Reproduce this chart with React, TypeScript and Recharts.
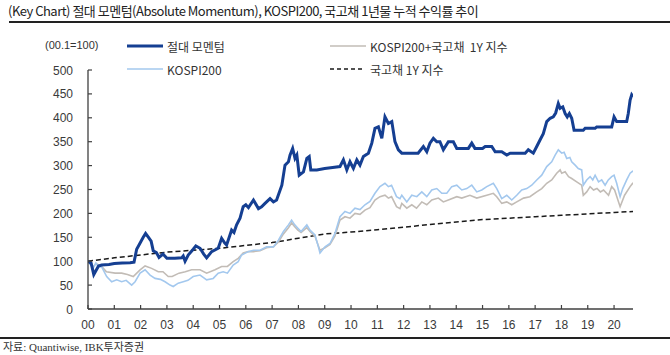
import React from "react";
import { LineChart, Line, XAxis, YAxis } from "recharts";

// year offset from 2000 -> index level (2000.1 = 100)
const MOMENTUM: [number, number][] = [
  [0, 100], [0.12, 96], [0.22, 72], [0.3, 80], [0.4, 90], [0.52, 92], [0.8, 93], [1.0, 95], [1.3, 96],
  [1.6, 97], [1.75, 98], [1.85, 125], [1.95, 135], [2.1, 150], [2.19, 158], [2.3, 150], [2.4, 142],
  [2.48, 122], [2.6, 118], [2.7, 108], [2.85, 115], [3.0, 106], [3.3, 106], [3.56, 107], [3.62, 111],
  [3.69, 100], [3.81, 113], [4.0, 125], [4.1, 132], [4.26, 127], [4.4, 115], [4.51, 107], [4.7, 120],
  [4.95, 127], [5.08, 148], [5.2, 138], [5.27, 134], [5.46, 165], [5.55, 160], [5.65, 176], [5.78, 190],
  [5.9, 214], [6.0, 218], [6.1, 212], [6.29, 228], [6.48, 210], [6.6, 214], [6.73, 221], [6.92, 231],
  [7.05, 224], [7.17, 228], [7.37, 259], [7.49, 301], [7.62, 308], [7.68, 322], [7.78, 336], [7.87, 315],
  [7.94, 322], [8.03, 280], [8.19, 287], [8.32, 315], [8.41, 319], [8.47, 291], [8.7, 291], [9.0, 294],
  [9.3, 296], [9.58, 298], [9.71, 312], [9.84, 291], [9.96, 308], [10.09, 294], [10.22, 312], [10.34, 301],
  [10.47, 319], [10.66, 326], [10.79, 347], [10.91, 378], [11.04, 381], [11.17, 357], [11.29, 402],
  [11.42, 388], [11.55, 392], [11.67, 350], [11.8, 333], [11.93, 326], [12.2, 326], [12.55, 326],
  [12.75, 340], [12.88, 329], [13.0, 347], [13.13, 357], [13.26, 350], [13.38, 350], [13.51, 333],
  [13.7, 350], [13.89, 350], [14.02, 336], [14.46, 336], [14.59, 347], [14.71, 336], [15.0, 336],
  [15.1, 340], [15.35, 340], [15.48, 329], [15.73, 329], [15.92, 322], [16.05, 326], [16.62, 326],
  [16.74, 333], [16.93, 326], [17.06, 340], [17.19, 354], [17.31, 367], [17.44, 392], [17.57, 399],
  [17.69, 402], [17.78, 410], [17.88, 430], [17.95, 420], [18.05, 423], [18.14, 409], [18.22, 402],
  [18.3, 409], [18.39, 399], [18.48, 374], [18.83, 374], [18.9, 378], [19.28, 378], [19.34, 381],
  [19.91, 381], [20.0, 402], [20.1, 392], [20.48, 392], [20.54, 409], [20.61, 437], [20.67, 448], [20.72, 444],
];

const KOSPI200: [number, number][] = [
  [0, 100], [0.1, 92], [0.2, 86], [0.3, 96], [0.39, 89], [0.52, 88], [0.71, 68], [0.9, 57], [1.09, 61],
  [1.28, 57], [1.45, 60], [1.66, 50], [1.79, 57], [1.98, 75], [2.17, 82], [2.36, 71], [2.55, 64],
  [2.75, 62], [2.93, 57], [3.12, 50], [3.24, 47], [3.43, 54], [3.62, 57], [3.8, 60], [4.0, 68], [4.26, 71],
  [4.51, 61], [4.76, 64], [4.95, 75], [5.14, 78], [5.3, 75], [5.52, 92], [5.71, 99], [5.84, 113],
  [6.09, 120], [6.29, 123], [6.54, 123], [6.79, 130], [7.05, 130], [7.24, 144], [7.43, 162], [7.62, 176],
  [7.74, 186], [7.86, 176], [7.98, 169], [8.1, 162], [8.32, 176], [8.44, 165], [8.63, 155], [8.76, 130],
  [8.82, 117], [9.01, 130], [9.2, 137], [9.39, 158], [9.58, 193], [9.77, 204], [9.96, 200], [10.15, 211],
  [10.34, 208], [10.53, 218], [10.72, 225], [10.91, 242], [11.1, 256], [11.29, 263], [11.42, 256],
  [11.54, 259], [11.73, 235], [11.86, 231], [11.93, 238], [12.12, 224], [12.31, 238], [12.5, 235],
  [12.69, 245], [12.88, 235], [13.07, 249], [13.26, 252], [13.45, 242], [13.64, 242], [13.83, 256],
  [14.02, 259], [14.21, 249], [14.4, 252], [14.59, 259], [14.78, 245], [14.97, 249], [15.16, 256],
  [15.41, 263], [15.54, 252], [15.73, 231], [15.92, 238], [16.11, 228], [16.3, 238], [16.49, 249],
  [16.68, 252], [16.87, 259], [17.06, 270], [17.25, 280], [17.44, 298], [17.63, 308], [17.76, 322],
  [17.88, 333], [18.01, 326], [18.1, 328], [18.2, 315], [18.32, 317], [18.39, 308], [18.52, 301],
  [18.64, 294], [18.77, 291], [18.83, 259], [18.96, 270], [19.09, 277], [19.19, 270], [19.28, 280],
  [19.41, 266], [19.53, 270], [19.66, 259], [19.78, 270], [19.91, 277], [20.0, 280], [20.1, 263],
  [20.23, 235], [20.33, 252], [20.48, 270], [20.61, 284], [20.72, 289],
];

const KOSPI_BOND: [number, number][] = [
  [0, 100], [0.1, 93], [0.2, 88], [0.3, 95], [0.52, 89], [0.7, 78], [1.03, 75], [1.28, 75], [1.5, 72],
  [1.72, 68], [1.98, 82], [2.17, 90], [2.42, 85], [2.67, 78], [2.85, 78], [3.05, 68], [3.2, 68], [3.46, 75],
  [3.7, 78], [3.94, 82], [4.26, 82], [4.51, 75], [4.83, 82], [5.08, 89], [5.3, 89], [5.52, 99], [5.71, 106],
  [5.9, 117], [6.09, 120], [6.29, 120], [6.54, 122], [6.79, 128], [7.05, 130], [7.24, 140], [7.43, 157],
  [7.62, 170], [7.74, 180], [7.86, 172], [7.98, 165], [8.1, 160], [8.32, 170], [8.44, 162], [8.63, 152],
  [8.76, 132], [8.82, 123], [9.01, 128], [9.2, 135], [9.39, 153], [9.58, 186], [9.77, 193], [9.96, 190],
  [10.15, 200], [10.34, 198], [10.53, 207], [10.72, 212], [10.91, 228], [11.1, 235], [11.29, 238],
  [11.42, 232], [11.54, 235], [11.73, 214], [11.86, 210], [11.93, 221], [12.12, 211], [12.31, 218],
  [12.49, 211], [12.69, 224], [12.88, 218], [13.07, 228], [13.32, 232], [13.51, 224], [13.7, 228],
  [14.02, 235], [14.21, 232], [14.52, 238], [14.78, 232], [15.16, 238], [15.41, 242], [15.54, 235],
  [15.73, 221], [15.92, 224], [16.11, 218], [16.3, 224], [16.56, 232], [16.8, 235], [17.06, 245],
  [17.25, 252], [17.44, 263], [17.63, 270], [17.82, 284], [17.95, 291], [18.01, 284], [18.14, 287],
  [18.27, 277], [18.39, 273], [18.58, 266], [18.77, 259], [18.83, 238], [18.96, 245], [19.09, 256],
  [19.22, 249], [19.35, 252], [19.48, 245], [19.6, 249], [19.79, 238], [19.91, 256], [20.02, 249],
  [20.23, 214], [20.4, 238], [20.61, 256], [20.72, 264],
];

const BOND_1Y: [number, number][] = [
  [0, 100], [1, 107], [2, 113], [3, 119], [4, 123], [5, 127], [6, 133], [7, 139], [8, 148], [9, 157],
  [10, 161], [11, 166], [12, 171], [13, 177], [14, 182], [15, 187], [16, 190], [17, 193], [18, 196],
  [19, 199], [20, 202], [20.72, 204],
];

const YEAR_TICKS = [0, 1, 2, 3, 4, 5, 6, 7, 8, 9, 10, 11, 12, 13, 14, 15, 16, 17, 18, 19, 20];
const VALUE_TICKS = [0, 50, 100, 150, 200, 250, 300, 350, 400, 450, 500];

const toRows = (pts: [number, number][]) => pts.map(([t, v]) => ({ t, v }));

const AXIS = "#404040";
const NUM_FONT = "'Liberation Sans', Arial, sans-serif";
const KR_FONT = "'Noto Sans CJK KR', 'Noto Sans', sans-serif";

function XTick({ x, y, payload }: any) {
  return (
    <g>
      <line x1={x} x2={x} y1={y} y2={y - 4} stroke={AXIS} strokeWidth={1.2} />
      <text x={x} y={y + 20} textAnchor="middle" fontSize={12} fill="#3a3a3a" fontFamily={NUM_FONT}>
        {String(payload.value).padStart(2, "0")}
      </text>
    </g>
  );
}

function YTick({ x, y, payload }: any) {
  return (
    <g>
      <line x1={x} x2={x + 4} y1={y} y2={y} stroke={AXIS} strokeWidth={1.2} />
      <text x={x - 15} y={y + 4.5} textAnchor="end" fontSize={12} fill="#3a3a3a" fontFamily={NUM_FONT}>
        {payload.value}
      </text>
    </g>
  );
}

function LegendRow({ top, left, sample, label }: { top: number; left: number; sample: React.ReactNode; label: string }) {
  return (
    <div style={{ position: "absolute", top: top - 8, left, height: 16, display: "flex", alignItems: "center" }}>
      <svg width={38} height={16}>{sample}</svg>
      <span style={{ marginLeft: 4, fontSize: 12, color: "#333", fontFamily: KR_FONT, whiteSpace: "pre" }}>{label}</span>
    </div>
  );
}

export default function App() {
  return (
    <div style={{ position: "absolute", left: 0, top: 0, width: 670, height: 355, background: "#fff", overflow: "hidden" }}>
      <div
        style={{
          position: "absolute",
          left: 8,
          top: 1,
          lineHeight: "19px",
          fontSize: 13,
          color: "#222",
          fontFamily: KR_FONT,
          letterSpacing: -0.5,
          whiteSpace: "nowrap",
        }}
      >
        (Key Chart) 절대 모멘텀(Absolute Momentum), KOSPI200, 국고채 1년물 누적 수익률 추이
      </div>
      <div style={{ position: "absolute", left: 9, top: 21, width: 661, height: 2, background: "#222" }} />

      <LineChart
        width={670}
        height={355}
        margin={{ top: 70, right: 37, left: 0, bottom: 16 }}
        style={{ position: "absolute", left: 0, top: 0 }}
      >
        <XAxis
          dataKey="t"
          type="number"
          domain={[0, 20.72]}
          allowDataOverflow
          ticks={YEAR_TICKS}
          interval={0}
          height={30}
          tickSize={0}
          tickMargin={0}
          tickLine={false}
          axisLine={{ stroke: AXIS, strokeWidth: 1.3 }}
          tick={<XTick />}
        />
        <YAxis
          type="number"
          domain={[0, 500]}
          ticks={VALUE_TICKS}
          interval={0}
          width={88}
          tickSize={0}
          tickMargin={0}
          tickLine={false}
          axisLine={{ stroke: AXIS, strokeWidth: 1.3 }}
          tick={<YTick />}
        />
        <Line
          data={toRows(BOND_1Y)}
          dataKey="v"
          stroke="#1a1a1a"
          strokeWidth={1.5}
          strokeDasharray="5 3"
          dot={false}
          isAnimationActive={false}
        />
        <Line
          data={toRows(KOSPI_BOND)}
          dataKey="v"
          stroke="#c2bcb6"
          strokeWidth={1.6}
          dot={false}
          isAnimationActive={false}
        />
        <Line
          data={toRows(KOSPI200)}
          dataKey="v"
          stroke="#a3c8ee"
          strokeWidth={1.6}
          dot={false}
          isAnimationActive={false}
        />
        <Line
          data={toRows(MOMENTUM)}
          dataKey="v"
          stroke="#153f92"
          strokeWidth={3}
          dot={false}
          isAnimationActive={false}
        />
      </LineChart>

      <div style={{ position: "absolute", left: 45, top: 39, fontSize: 11, color: "#333", fontFamily: NUM_FONT }}>
        (00.1=100)
      </div>
      <LegendRow top={46} left={125} label="절대 모멘텀" sample={<line x1={2} x2={38} y1={8} y2={8} stroke="#153f92" strokeWidth={3} />} />
      <LegendRow top={69} left={125} label="KOSPI200" sample={<line x1={2} x2={38} y1={8} y2={8} stroke="#a3c8ee" strokeWidth={1.6} />} />
      <LegendRow top={46} left={328} label="KOSPI200+국고채  1Y 지수" sample={<line x1={2} x2={38} y1={8} y2={8} stroke="#c2bcb6" strokeWidth={1.6} />} />
      <LegendRow top={69} left={328} label="국고채 1Y 지수" sample={<line x1={2} x2={35} y1={8} y2={8} stroke="#1a1a1a" strokeWidth={1.5} strokeDasharray="4 3" />} />

      <div style={{ position: "absolute", left: 0, top: 337, width: 670, height: 2, background: "#222" }} />
      <div
        style={{
          position: "absolute",
          left: 3,
          top: 340,
          fontSize: 11,
          lineHeight: "15px",
          color: "#333",
          fontFamily: "'Liberation Serif', 'Noto Sans CJK KR', serif",
        }}
      >
        자료: Quantiwise, IBK투자증권
      </div>
    </div>
  );
}
